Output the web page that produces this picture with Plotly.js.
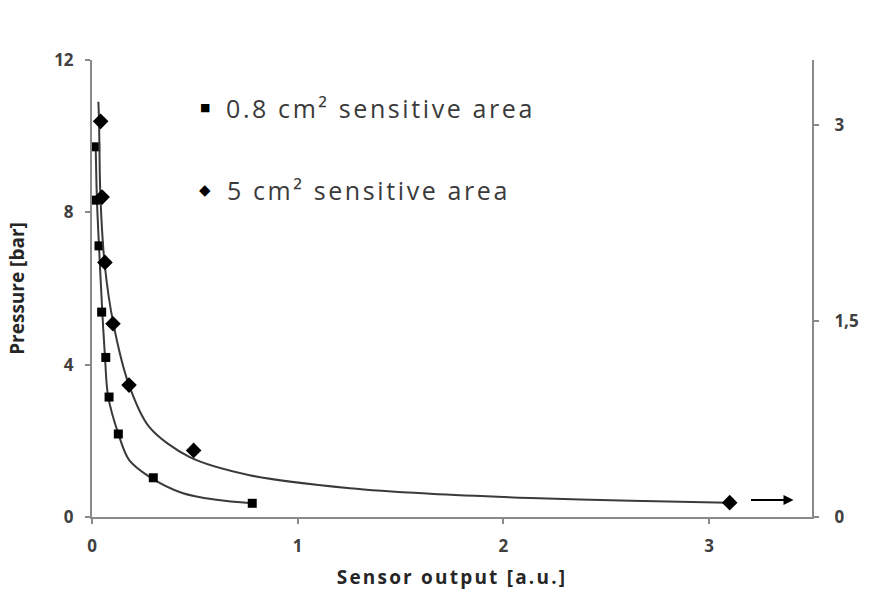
<!DOCTYPE html>
<html>
<head>
<meta charset="utf-8">
<script src="https://cdn.plot.ly/plotly-3.0.1.min.js"></script>
<style>html,body{margin:0;padding:0;background:#fff;}#chart{width:870px;height:592px;}</style>
</head>
<body>
<div id="chart"></div>
<script>
// 0.8 cm² sensitive area (left axis, bar)
const smallX = [0.018, 0.017, 0.034, 0.047, 0.067, 0.083, 0.128, 0.298, 0.779];
const smallY = [9.72, 8.32, 7.12, 5.38, 4.19, 3.15, 2.18, 1.03, 0.36];
// trend curve for 0.8 cm²
const smallFitX = [0.018, 0.024, 0.034, 0.050, 0.063, 0.078, 0.127, 0.180, 0.278, 0.439, 0.605, 0.779];
const smallFitY = [9.72, 8.32, 7.12, 5.39, 4.21, 3.18, 2.20, 1.50, 1.06, 0.63, 0.45, 0.36];

// 5 cm² sensitive area (right axis)
const largeX = [0.042, 0.049, 0.063, 0.102, 0.180, 0.494, 3.10];
const largeY = [3.03, 2.45, 1.95, 1.48, 1.01, 0.51, 0.11];
// trend curve for 5 cm²
const largeFitX = [0.031, 0.034, 0.041, 0.062, 0.104, 0.180, 0.278, 0.473, 0.766, 1.254, 1.644, 2.132, 2.620, 3.093];
const largeFitY = [3.18, 3.05, 2.45, 1.93, 1.48, 1.01, 0.69, 0.46, 0.32, 0.22, 0.178, 0.146, 0.125, 0.11];

const xTicks = [0, 1, 2, 3];
const yTicks = [0, 4, 8, 12];
const y2Ticks = [0, 1.5, 3];
const y2TickText = ['0', '1,5', '3'];
const legendLabels = ['0.8 cm² sensitive area', '5 cm² sensitive area'];
const xTitle = 'Sensor output [a.u.]';
const yTitle = 'Pressure [bar]';
const arrowAt = {x: 3.41, y: 0.13};

const FONT = 'Open Sans, Liberation Sans, sans-serif';
const AX = '#8a8a8a';
const tickFont = {family: FONT, size: 17, color: '#404040', weight: 'bold'};
const titleFont = {family: FONT, size: 19, color: '#262626', weight: 'bold'};

const traces = [
  {x: smallFitX, y: smallFitY, mode: 'lines', line: {color: '#3a3a3a', width: 2, shape: 'spline', smoothing: 0.9}, showlegend: false, hoverinfo: 'skip'},
  {x: largeFitX, y: largeFitY, yaxis: 'y2', mode: 'lines', line: {color: '#3a3a3a', width: 2, shape: 'spline', smoothing: 0.9}, showlegend: false, hoverinfo: 'skip'},
  {x: smallX, y: smallY, mode: 'markers', marker: {symbol: 'square', size: 9, color: '#000'}, name: legendLabels[0], showlegend: false},
  {x: largeX, y: largeY, yaxis: 'y2', mode: 'markers', marker: {symbol: 'diamond', size: 12, color: '#000'}, name: legendLabels[1], showlegend: false}
];

const axisCommon = {
  showgrid: false, zeroline: false, showline: true, linecolor: AX, linewidth: 2,
  ticks: 'outside', ticklen: 5, tickwidth: 2, tickcolor: AX, tickfont: tickFont
};

const legendText = {family: FONT, size: 25, color: '#3a3a3a', weight: 500};
const spaced = (s, px) => '<span style="letter-spacing:' + px + 'px">' + s + '</span>';

const layout = {
  width: 870, height: 592,
  margin: {l: 92, r: 58, t: 60, b: 75},
  paper_bgcolor: '#fff', plot_bgcolor: '#fff',
  showlegend: false,
  xaxis: Object.assign({}, axisCommon, {
    range: [0, 3.5], tickvals: xTicks, ticklabelstandoff: 8,
    title: {text: spaced(xTitle, 2.2), font: titleFont, standoff: 14}
  }),
  yaxis: Object.assign({}, axisCommon, {
    range: [0, 12], tickvals: yTicks, ticklabelstandoff: 8,
    title: {text: yTitle, font: titleFont, standoff: 24}
  }),
  yaxis2: Object.assign({}, axisCommon, {
    overlaying: 'y', side: 'right', range: [0, 3.5], tickvals: y2Ticks, ticktext: y2TickText,
    ticklabelstandoff: 12
  }),
  annotations: [
    {xref: 'paper', yref: 'paper', x: (205 - 92) / 720, y: (517 - 107) / 457, xanchor: 'center', yanchor: 'middle', showarrow: false,
     text: '■', font: {family: 'DejaVu Sans', size: 11, color: '#000'}},
    {xref: 'paper', yref: 'paper', x: (205 - 92) / 720, y: (517 - 190) / 457, xanchor: 'center', yanchor: 'middle', showarrow: false,
     text: '◆', font: {family: 'DejaVu Sans', size: 15, color: '#000'}},
    {xref: 'paper', yref: 'paper', x: (224 - 92) / 720, y: (517 - 108) / 457, xanchor: 'left', yanchor: 'middle', showarrow: false,
     text: spaced(legendLabels[0], 2.6), font: legendText},
    {xref: 'paper', yref: 'paper', x: (225 - 92) / 720, y: (517 - 190) / 457, xanchor: 'left', yanchor: 'middle', showarrow: false,
     text: spaced(legendLabels[1], 2.6), font: legendText},
    {xref: 'x', yref: 'y2', x: arrowAt.x, y: arrowAt.y, ax: -44, ay: 0, text: '', showarrow: true,
     arrowhead: 2, arrowsize: 1, arrowwidth: 2, arrowcolor: '#000'}
  ]
};

Plotly.newPlot('chart', traces, layout, {displayModeBar: false, staticPlot: true});
</script>
</body>
</html>
